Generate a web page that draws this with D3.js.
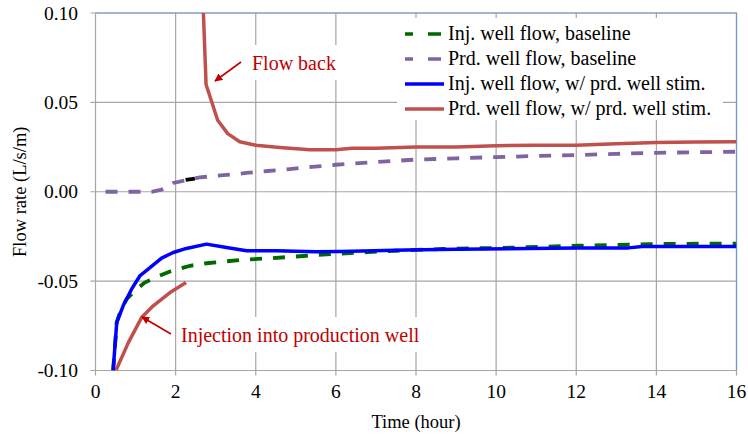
<!DOCTYPE html>
<html>
<head>
<meta charset="utf-8">
<script src="https://cdn.jsdelivr.net/npm/d3@7"></script>
<style>
  body { margin: 0; background: #fff; }
  svg { font-family: "Liberation Serif", "Times New Roman", serif; }
</style>
</head>
<body>
<div id="chart"></div>
<script>
// values
var xTicks = [0, 2, 4, 6, 8, 10, 12, 14, 16];
var yTicks = [0.10, 0.05, 0.00, -0.05, -0.10];

var injBaseTime = [0.44, 0.53, 0.65, 0.78, 0.98, 1.23, 1.53, 1.86, 2.36, 2.77, 3.6, 4.43, 5.27, 5.9, 6.35, 7.5, 8.67, 10.34, 12.08, 13.83, 15.5, 16];
var injBase = [-0.10, -0.073, -0.065, -0.060, -0.0554, -0.0508, -0.0476, -0.0446, -0.0414, -0.040, -0.0382, -0.0371, -0.0358, -0.0349, -0.0343, -0.033, -0.032, -0.0313, -0.0302, -0.0293, -0.029, -0.029];

var prdBaseTime = [0.25, 0.5, 1.0, 1.4, 1.65, 1.94, 2.6, 3.2, 3.77, 4.3, 4.85, 5.4, 6.0, 7.0, 7.92, 9.0, 10.0, 11.0, 12.0, 13.0, 14.0, 15.0, 16.0];
var prdBase = [0, 0, 0, 0, 0.0012, 0.0049, 0.008, 0.0093, 0.0105, 0.0116, 0.0127, 0.0139, 0.0151, 0.0166, 0.0179, 0.0187, 0.0194, 0.020, 0.0205, 0.0212, 0.0218, 0.0221, 0.0224];

var injStimTime = [0.44, 0.53, 0.69, 0.9, 1.11, 1.36, 1.65, 1.94, 2.27, 2.77, 3.27, 3.77, 4.52, 5.5, 6.1, 7.76, 9.0, 10.83, 12.0, 13.3, 13.65, 15.0, 16.0];
var injStim = [-0.10, -0.0732, -0.0638, -0.0545, -0.047, -0.0424, -0.0371, -0.034, -0.0317, -0.0293, -0.0312, -0.033, -0.033, -0.0336, -0.0334, -0.0326, -0.0322, -0.0317, -0.0315, -0.0314, -0.0306, -0.0306, -0.0306];

var prdStimTime = [0.51, 0.82, 1.15, 1.44, 1.86, 2.26, 2.45, 2.66, 2.76, 3.05, 3.3, 3.6, 4.0, 4.6, 5.35, 6.0, 6.4, 7.0, 8.0, 9.0, 10.0, 11.0, 12.0, 13.0, 14.0, 15.0, 16.0];
var prdStim = [-0.10, -0.0844, -0.0704, -0.0638, -0.0564, -0.0508, null, 0.12, 0.060, 0.040, 0.0325, 0.028, 0.026, 0.0248, 0.0235, 0.0235, 0.0243, 0.0243, 0.025, 0.025, 0.0258, 0.026, 0.026, 0.0268, 0.0275, 0.0278, 0.028];

// short black piece sitting on the purple curve
var blackTime = [2.25, 2.48];
var blackVal = [0.0066, 0.0074];

var seriesNames = ["Inj. well flow, baseline", "Prd. well flow, baseline", "Inj. well flow, w/ prd. well stim.", "Prd. well flow, w/ prd. well stim."];
var seriesColors = ["#006a00", "#8064a2", "#0000ff", "#c0504d"];

function zip(t, v) {
    return t.map(function (d, i) { return {x: d, y: v[i]}; });
}

var width = 748, height = 435;
var margin = {left: 95.5, right: 11.5, top: 13, bottom: 64.5};
var plotW = width - margin.left - margin.right;
var plotH = height - margin.top - margin.bottom;

var svg = d3.select("#chart").append("svg")
    .attr("width", width)
    .attr("height", height);

var x = d3.scaleLinear().domain([0, 16]).range([margin.left, margin.left + plotW]);
var y = d3.scaleLinear().domain([-0.10, 0.10]).range([margin.top + plotH, margin.top]);

svg.append("clipPath").attr("id", "plotClip")
    .append("rect")
    .attr("x", margin.left).attr("y", margin.top)
    .attr("width", plotW).attr("height", plotH);

// grid
var grid = svg.append("g").attr("stroke", "#a6a6a6").attr("stroke-width", 1.2);
xTicks.forEach(function (t) {
    grid.append("line")
        .attr("x1", x(t)).attr("x2", x(t))
        .attr("y1", margin.top).attr("y2", margin.top + plotH + 5);
});
yTicks.forEach(function (t) {
    grid.append("line")
        .attr("x1", margin.left - 5).attr("x2", margin.left + plotW)
        .attr("y1", y(t)).attr("y2", y(t));
});

// top and right frame
svg.append("path")
    .attr("d", "M" + x(0) + "," + y(0.10) + "H" + x(16) + "V" + y(-0.10))
    .attr("fill", "none")
    .attr("stroke", "#7399cc")
    .attr("stroke-width", 1.2);

// annotation backgrounds (hide the grid like the reference)
svg.append("rect").attr("x", 249).attr("y", 45).attr("width", 92).attr("height", 35).attr("fill", "#fff");
svg.append("rect").attr("x", 178).attr("y", 317).attr("width", 246).attr("height", 35).attr("fill", "#fff");

// axis labels
var xLab = svg.append("g").attr("font-size", 19.5).attr("fill", "#000").attr("text-anchor", "middle");
xTicks.forEach(function (t) {
    xLab.append("text").attr("x", x(t)).attr("y", 398).text(t);
});
var yLab = svg.append("g").attr("font-size", 19.5).attr("fill", "#000").attr("text-anchor", "end");
yTicks.forEach(function (t) {
    yLab.append("text").attr("x", 78).attr("y", y(t) + 6.5).text(d3.format(".2f")(t).replace("−", "-"));
});

svg.append("text")
    .attr("x", x(8)).attr("y", 428)
    .attr("text-anchor", "middle")
    .attr("font-size", 18.5)
    .text("Time (hour)");

svg.append("text")
    .attr("transform", "translate(26," + y(0) + ") rotate(-90)")
    .attr("text-anchor", "middle")
    .attr("font-size", 18.5)
    .text("Flow rate (L/s/m)");

// lines
var line = d3.line()
    .defined(function (d) { return d.y !== null; })
    .x(function (d) { return x(d.x); })
    .y(function (d) { return y(d.y); });

var plot = svg.append("g").attr("clip-path", "url(#plotClip)").attr("fill", "none");

plot.append("path")
    .attr("d", line(zip(prdBaseTime, prdBase)))
    .attr("stroke", seriesColors[1])
    .attr("stroke-width", 3.8)
    .attr("stroke-dasharray", "12,11");

plot.append("path")
    .attr("d", line(zip(blackTime, blackVal)))
    .attr("stroke", "#000")
    .attr("stroke-width", 3.8);

plot.append("path")
    .attr("d", line(zip(prdStimTime, prdStim)))
    .attr("stroke", seriesColors[3])
    .attr("stroke-width", 3.5)
    .attr("stroke-linejoin", "round");

plot.append("path")
    .attr("d", line(zip(injBaseTime, injBase)))
    .attr("stroke", seriesColors[0])
    .attr("stroke-width", 3.8)
    .attr("stroke-dasharray", "12,11");

plot.append("path")
    .attr("d", line(zip(injStimTime, injStim)))
    .attr("stroke", seriesColors[2])
    .attr("stroke-width", 3.5)
    .attr("stroke-linejoin", "round");

// annotations
svg.append("defs").append("marker")
    .attr("id", "arrow")
    .attr("viewBox", "0 0 10 10")
    .attr("refX", 9).attr("refY", 5)
    .attr("markerWidth", 5).attr("markerHeight", 5)
    .attr("orient", "auto")
    .append("path")
    .attr("d", "M0,0L10,5L0,10z")
    .attr("fill", "#c00000");

svg.append("line")
    .attr("x1", 241).attr("y1", 62).attr("x2", 215).attr("y2", 81)
    .attr("stroke", "#c00000").attr("stroke-width", 1.6)
    .attr("marker-end", "url(#arrow)");
svg.append("text")
    .attr("x", 252).attr("y", 70)
    .attr("font-size", 20).attr("fill", "#c00000")
    .text("Flow back");

svg.append("line")
    .attr("x1", 171).attr("y1", 334).attr("x2", 142).attr("y2", 317)
    .attr("stroke", "#c00000").attr("stroke-width", 1.6)
    .attr("marker-end", "url(#arrow)");
svg.append("text")
    .attr("x", 181).attr("y", 342)
    .attr("font-size", 20).attr("fill", "#c00000")
    .text("Injection into production well");

// legend
var legend = svg.append("g");
legend.append("rect")
    .attr("x", 397).attr("y", 18).attr("width", 326).attr("height", 102)
    .attr("fill", "#fff");
seriesNames.forEach(function (name, i) {
    var cy = 34 + i * 25;
    legend.append("line")
        .attr("x1", 405).attr("x2", 444)
        .attr("y1", cy).attr("y2", cy)
        .attr("stroke", seriesColors[i])
        .attr("stroke-width", 3.5)
        .attr("stroke-dasharray", i < 2 ? "8,15,13,10" : null);
    legend.append("text")
        .attr("x", 448).attr("y", cy + 6)
        .attr("font-size", 20)
        .text(name);
});
</script>
</body>
</html>
